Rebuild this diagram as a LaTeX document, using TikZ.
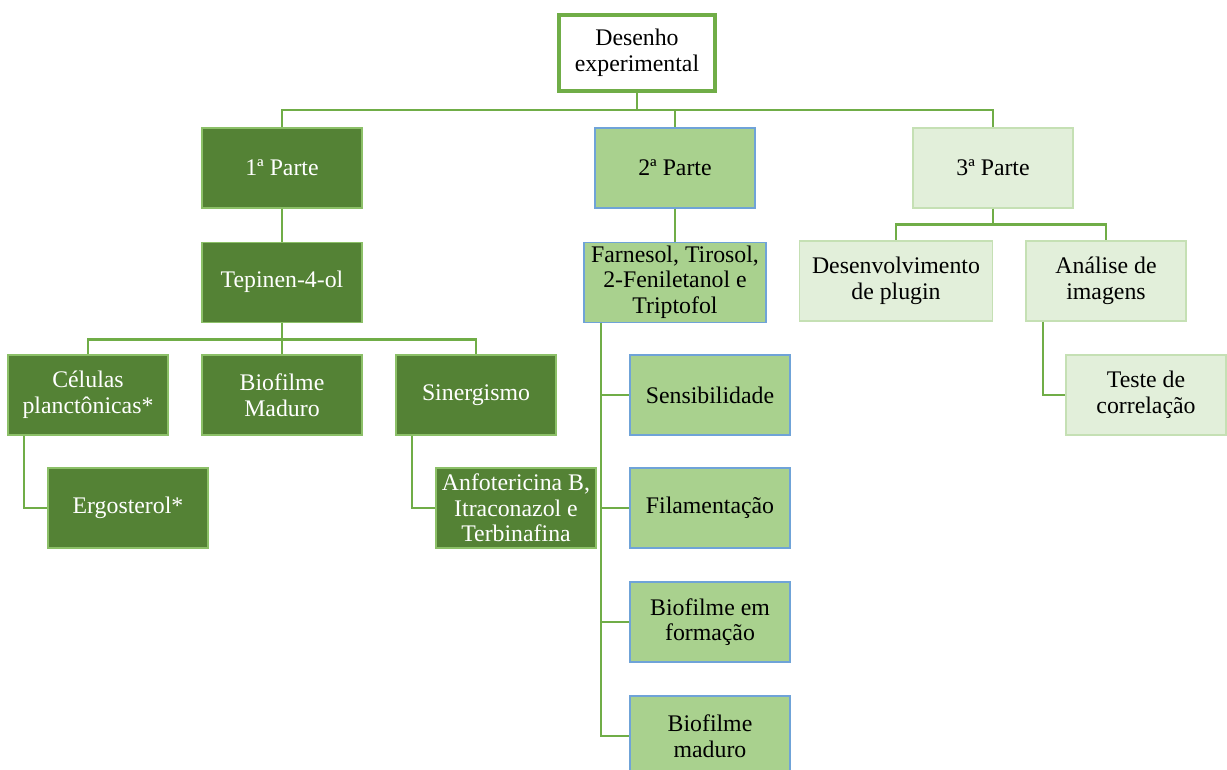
\documentclass[tikz,border=0pt]{standalone}
\usepackage{fontspec}
\setmainfont{Liberation Serif}
\usetikzlibrary{positioning, calc}
\definecolor{DarkLeaf}{HTML}{548235}
\definecolor{MidLeaf}{HTML}{A9D18E}
\definecolor{PaleLeaf}{HTML}{E2EFDA}
\definecolor{LinkGreen}{HTML}{70AD47}
\definecolor{EdgeDark}{HTML}{8CC068}
\definecolor{EdgeBlue}{HTML}{6FA3D8}
\definecolor{EdgePale}{HTML}{C5E0B4}

\begin{document}
\begin{tikzpicture}[x=1pt, y=-1pt, node distance=33pt,
        box/.style={rectangle, minimum width=160pt, minimum height=80pt, inner sep=1pt, align=center,
            font=\fontsize{23.8}{25.5}\selectfont},
        root/.style={box, draw=LinkGreen, fill=white, line width=4pt, minimum width=156pt, minimum height=76pt},
        darkbox/.style={box, draw=EdgeDark, fill=DarkLeaf, line width=1.2pt, text=white},
        midbox/.style={box, draw=EdgeBlue, fill=MidLeaf, line width=1.2pt},
        palebox/.style={box, draw=EdgePale, fill=PaleLeaf, line width=1.2pt},
        link/.style={draw=LinkGreen, line width=2.8pt}]

        \useasboundingbox (0,0) rectangle (1227,769);

        % topo
        \node[root] (design) at (637,53) {Desenho\\experimental};

        % partes
        \node[darkbox] (partI) at (282,168) {1ª Parte};
        \node[midbox] (partII) at (675,168) {2ª Parte};
        \node[palebox] (partIII) at (993,168) {3ª Parte};

        % 1a parte
        \node[darkbox, below=of partI] (terp) {Tepinen-4-ol};
        \node[darkbox] (planc) at (88,395) {Células\\planctônicas*};
        \node[darkbox] (biomat) at (282,395) {Biofilme\\Maduro};
        \node[darkbox] (sinerg) at (476,395) {Sinergismo};
        \node[darkbox] (ergo) at (128,508) {Ergosterol*};
        \node[darkbox] (antif) at (516,508) {Anfotericina B,\\Itraconazol e\\Terbinafina};

        % 2a parte
        \node[midbox, minimum width=182pt, below=of partII] (qs) {Farnesol, Tirosol,\\2-Feniletanol e\\Triptofol};
        \node[midbox] (sens) at (710,395) {Sensibilidade};
        \node[midbox] (filam) at (710,508) {Filamentação};
        \node[midbox] (bioform) at (710,622) {Biofilme em\\formação};
        \node[midbox] (biomad) at (710,736) {Biofilme\\maduro};

        % 3a parte
        \node[palebox, minimum width=193pt] (plugin) at (896,281) {Desenvolvimento\\de plugin};
        \node[palebox] (imgs) at (1106,281) {Análise de\\imagens};
        \node[palebox] (corr) at (1146,395) {Teste de\\correlação};

        % ligacoes
        \draw[link] (design.south) -- ++(0,17) -| (partI.north);
        \draw[link] (design.south) -- ++(0,17) -| (partII.north);
        \draw[link] (design.south) -- ++(0,17) -| (partIII.north);
        \draw[link] (partI) -- (terp);
        \draw[link] (partII) -- (qs);
        \draw[link] (terp.south) -- ++(0,17) -| (planc.north);
        \draw[link] (terp.south) -- (biomat.north);
        \draw[link] (terp.south) -- ++(0,17) -| (sinerg.north);
        \draw[link] ([xshift=-64pt]planc.south) |- (ergo.west);
        \draw[link] ([xshift=-64pt]sinerg.south) |- (antif.west);
        \draw[link] ([xshift=-74pt]qs.south) |- (sens.west);
        \draw[link] ([xshift=-74pt]qs.south) |- (filam.west);
        \draw[link] ([xshift=-74pt]qs.south) |- (bioform.west);
        \draw[link] ([xshift=-74pt]qs.south) |- (biomad.west);
        \draw[link] (partIII.south) -- ++(0,16) -| (plugin.north);
        \draw[link] (partIII.south) -- ++(0,16) -| (imgs.north);
        \draw[link] ([xshift=-63pt]imgs.south) |- (corr.west);
    \end{tikzpicture}
\end{document}
